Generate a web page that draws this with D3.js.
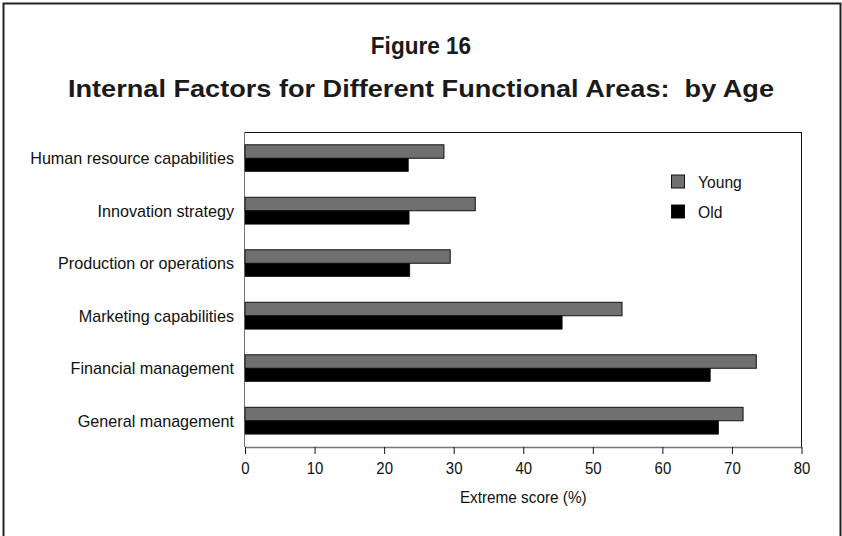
<!DOCTYPE html>
<html><head><meta charset="utf-8">
<script src="https://cdn.jsdelivr.net/npm/d3@7"></script>
<style>body{margin:0;background:#fff;} svg{display:block;} text{white-space:pre;}</style>
</head><body>
<svg id="c" width="842" height="536"></svg>
<script>
const categories = ["Human resource capabilities","Innovation strategy","Production or operations","Marketing capabilities","Financial management","General management"];
const youngValues = [28.6, 33.1, 29.5, 54.2, 73.5, 71.6];
const oldValues = [23.5, 23.6, 23.7, 45.6, 66.9, 68.1];
const seriesNames = ["Young","Old"];
const seriesColors = ["#707070","#000000"];
const xTicks = [0,10,20,30,40,50,60,70,80];

const FONT = "Liberation Sans, Arial, sans-serif";
const svg = d3.select("#c");
const m = {left:245, right:801.5, top:132, bottom:447};

function condense(sel, k){
  sel.each(function(){
    const w = this.getComputedTextLength();
    d3.select(this).attr("textLength", w*k).attr("lengthAdjust","spacingAndGlyphs");
  });
}

// outer frame (no bottom edge)
svg.append("path").attr("d","M3.5,536 V3.5 H840.5 V536").attr("fill","none").attr("stroke","#222").attr("stroke-width",2);

const t1 = svg.append("text").attr("x",421).attr("y",54).attr("text-anchor","middle")
  .attr("font-family",FONT).attr("font-weight","bold").attr("font-size",24)
  .attr("fill","#1a1a1a").text("Figure 16");
condense(t1, 0.94);
svg.append("text").attr("x",421).attr("y",97).attr("text-anchor","middle")
  .attr("font-family",FONT).attr("font-weight","bold").attr("font-size",24)
  .attr("textLength",706).attr("lengthAdjust","spacingAndGlyphs")
  .attr("fill","#1a1a1a").text("Internal Factors for Different Functional Areas:  by Age");

const x = d3.scaleLinear().domain([0,80]).range([m.left,m.right]);
const y = d3.scaleBand().domain(categories).range([m.top,m.bottom]);
const inner = d3.scaleBand().domain(seriesNames).range([0,y.bandwidth()]).paddingInner(0).paddingOuter(0.95);

// plot frame
svg.append("line").attr("x1",m.left).attr("x2",m.right).attr("y1",m.top+0.5).attr("y2",m.top+0.5).attr("stroke","#111");
svg.append("line").attr("x1",m.right).attr("x2",m.right).attr("y1",m.top).attr("y2",m.bottom).attr("stroke","#111");
svg.append("line").attr("x1",m.left-0.5).attr("x2",m.left-0.5).attr("y1",m.top).attr("y2",m.bottom).attr("stroke","#777");

const data = categories.map((c,i)=>({c, vals:[youngValues[i], oldValues[i]]}));
const g = svg.append("g");
data.forEach(d=>{
  d.vals.forEach((v,j)=>{
    g.append("rect").attr("x",x(0)).attr("y",y(d.c)+inner(seriesNames[j]))
      .attr("width",x(v)-x(0)).attr("height",inner.bandwidth())
      .attr("fill",seriesColors[j]).attr("stroke","#111").attr("stroke-width",j===0?1:0.5);
  });
});

// x axis
const xa = svg.append("g").attr("transform",`translate(0,${m.bottom})`)
  .call(d3.axisBottom(x).tickValues(xTicks).tickSize(7).tickSizeOuter(0).tickPadding(8));
xa.select(".domain").attr("stroke","#777").attr("stroke-width",1.5);
xa.selectAll(".tick line").attr("stroke","#111");
xa.selectAll("text").attr("font-family",FONT).attr("font-size",17).attr("fill","#111");
condense(xa.selectAll("text"), 0.88);

const xt = svg.append("text").attr("x",x(40)).attr("y",503).attr("text-anchor","middle")
  .attr("font-family",FONT).attr("font-size",17).attr("fill","#111")
  .text("Extreme score (%)");
condense(xt, 0.9);

// y labels
categories.forEach(c=>{
  const t = svg.append("text").attr("x",234).attr("y",y(c)+y.bandwidth()/2).attr("dy","0.35em")
    .attr("text-anchor","end").attr("font-family",FONT).attr("font-size",17)
    .attr("fill","#111").text(c);
  condense(t, 0.95);
});

// legend
seriesNames.forEach((s,i)=>{
  const ly = 182 + i*30;
  svg.append("rect").attr("x",671.5).attr("y",ly-7).attr("width",13).attr("height",13)
    .attr("fill",seriesColors[i]).attr("stroke","#111");
  const t = svg.append("text").attr("x",698).attr("y",ly).attr("dy","0.35em")
    .attr("font-family",FONT).attr("font-size",17).attr("fill","#111").text(s);
  condense(t, 0.92);
});
</script>
</body></html>
